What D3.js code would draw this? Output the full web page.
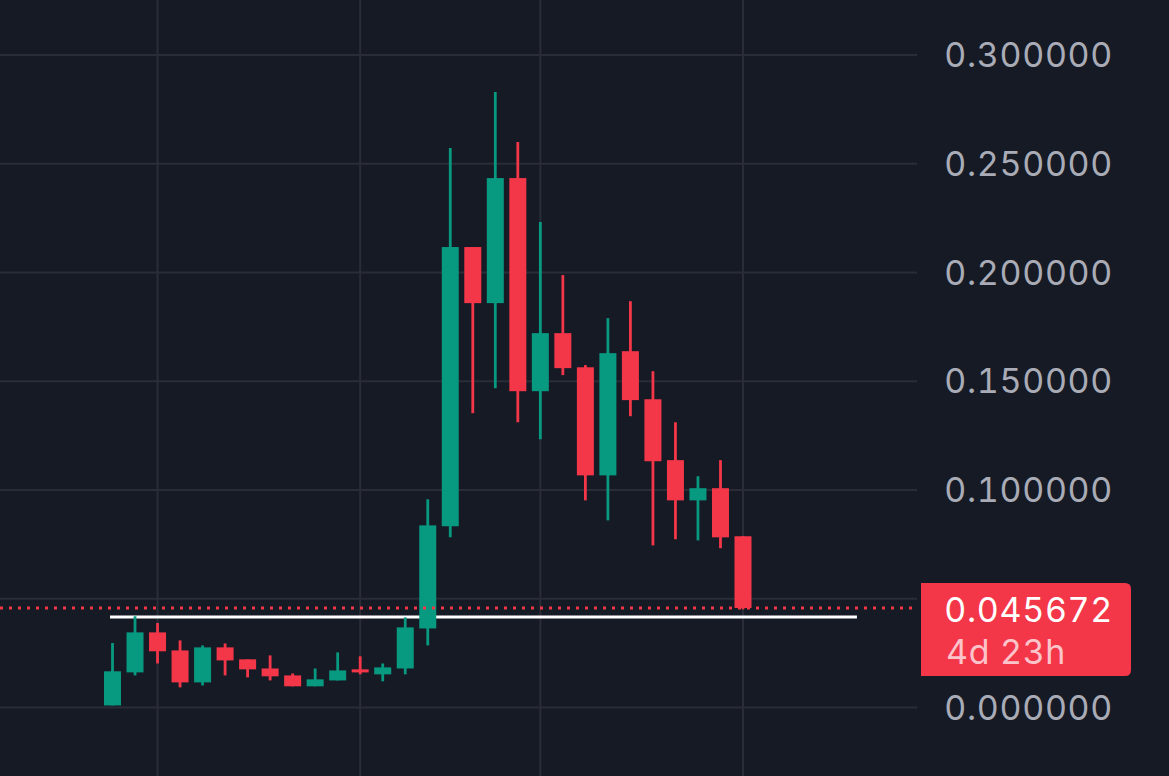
<!DOCTYPE html>
<html>
<head>
<meta charset="utf-8">
<script src="https://cdn.jsdelivr.net/npm/d3@7"></script>
<style>
    html, body { margin: 0; padding: 0; background: #161a25; overflow: hidden; }
    text { font-family: Inter, "Noto Sans", sans-serif; font-variant-numeric: tabular-nums; }
    .price { letter-spacing: 0.65px; }
</style>
</head>
<body>
<div id="viz"></div>
<script>
const opens  = [.0009,.0161,.0345,.0262,.0115,.0276,.0221,.0179,.0147,.0097,.0124,.0175,.0152,.0179,.0363,.0833,.2117,.1859,.2434,.1454,.1721,.1564,.1067,.1638,.1417,.1137,.0952,.1008,.0787];
const highs  = [.0296,.0419,.0388,.0308,.0285,.0294,.0221,.0239,.0156,.0179,.0253,.0235,.0202,.0414,.0957,.2572,.2117,.2830,.2600,.2232,.1988,.1574,.1790,.1868,.1546,.1311,.1063,.1137,.0787];
const lows   = [.0009,.0147,.0202,.0092,.0101,.0147,.0138,.0124,.0097,.0097,.0124,.0152,.0120,.0152,.0285,.0782,.1353,.1468,.1311,.1233,.1528,.0952,.0860,.1339,.0745,.0773,.0768,.0732,.0451];
const closes = [.0166,.0345,.0258,.0115,.0276,.0216,.0175,.0143,.0097,.0129,.0170,.0161,.0184,.0368,.0837,.2117,.1859,.2434,.1454,.1721,.1560,.1067,.1629,.1413,.1132,.0952,.1008,.0782,.0457];
const candleIndex = d3.range(opens.length);

const priceTicks = [0, 0.05, 0.1, 0.15, 0.2, 0.25, 0.3];
const hiddenPriceTick = 0.05;        // its label sits behind the price tag
const timeTicks = [2, 11, 19, 28];   // candles that carry a vertical grid line
const lastPrice = 0.045672;
const levelPrice = 0.0416;           // white support line
const levelFrom = -0.11, levelTo = 33.06;
const lastLabel = "0.045672", countdown = "4d 23h";

const width = 1169, height = 776, plotRight = 917;
const green = "#089981", red = "#f43649", grid = "#2a2d37";

const x = d3.scaleLinear().domain([0, 28]).range([112.5, 743]);
const y = d3.scaleLinear().domain([0, 0.3]).range([707.4, 55]);

const svg = d3.select("#viz")
    .append("svg")
        .attr("width", width)
        .attr("height", height)
        .style("display", "block");

// Grid + price axis
const yAxis = svg.append("g")
    .attr("transform", `translate(${plotRight},0)`)
    .call(d3.axisRight(y)
        .offset(0)
        .tickValues(priceTicks)
        .tickSize(-plotRight)
        .tickFormat(d => d === hiddenPriceTick ? "" : d3.format(".6f")(d)));
yAxis.select(".domain").remove();
yAxis.selectAll("line").attr("stroke", grid).attr("stroke-width", 2);
yAxis.selectAll("text")
    .attr("class", "price")
    .attr("x", 1113 - plotRight)
    .attr("dy", "0.36em")
    .attr("text-anchor", "end")
    .attr("fill", "#a9acb6")
    .attr("font-size", 34)
    .attr("font-family", "Inter");

const xAxis = svg.append("g")
    .attr("transform", `translate(0,${height})`)
    .call(d3.axisTop(x).offset(0).tickValues(timeTicks).tickSize(height).tickFormat(""));
xAxis.select(".domain").remove();
xAxis.selectAll("line").attr("stroke", grid).attr("stroke-width", 2);

// White level line
svg.append("line")
    .attr("x1", x(levelFrom))
    .attr("x2", x(levelTo))
    .attr("y1", y(levelPrice))
    .attr("y2", y(levelPrice))
    .attr("stroke", "#ffffff")
    .attr("stroke-width", 3);

// Candles
const colour = i => closes[i] >= opens[i] ? green : red;

svg.selectAll("line.wick")
    .data(candleIndex)
    .enter()
    .append("line")
        .attr("class", "wick")
        .attr("x1", i => x(i))
        .attr("x2", i => x(i))
        .attr("y1", i => y(highs[i]))
        .attr("y2", i => y(lows[i]))
        .attr("stroke", colour)
        .attr("stroke-width", 2.8);

svg.selectAll("rect.body")
    .data(candleIndex)
    .enter()
    .append("rect")
        .attr("class", "body")
        .attr("x", i => x(i) - 8.5)
        .attr("width", 17)
        .attr("y", i => y(Math.max(opens[i], closes[i])))
        .attr("height", i => Math.abs(y(opens[i]) - y(closes[i])))
        .attr("fill", colour);

// Dotted last price line
svg.append("line")
    .attr("x1", 0)
    .attr("x2", plotRight)
    .attr("y1", y(lastPrice))
    .attr("y2", y(lastPrice))
    .attr("stroke", red)
    .attr("stroke-width", 3)
    .attr("stroke-dasharray", "3 6");

// Price label
const labelTop = 583, labelBottom = 676, labelLeft = 921, labelRight = 1131, r = 6;
svg.append("path")
    .attr("d", `M${labelLeft},${labelTop}H${labelRight - r}Q${labelRight},${labelTop} ${labelRight},${labelTop + r}`
        + `V${labelBottom - r}Q${labelRight},${labelBottom} ${labelRight - r},${labelBottom}H${labelLeft}Z`)
    .attr("fill", red);

svg.append("text")
    .attr("class", "price")
    .attr("x", 1113)
    .attr("y", 622)
    .attr("text-anchor", "end")
    .attr("font-size", 34)
    .attr("fill", "#ffffff")
    .text(lastLabel);

svg.append("text")
    .attr("class", "price")
    .attr("x", 946)
    .attr("y", 664)
    .attr("font-size", 34)
    .attr("fill", "#fbc3ca")
    .text(countdown);
</script>
</body>
</html>
